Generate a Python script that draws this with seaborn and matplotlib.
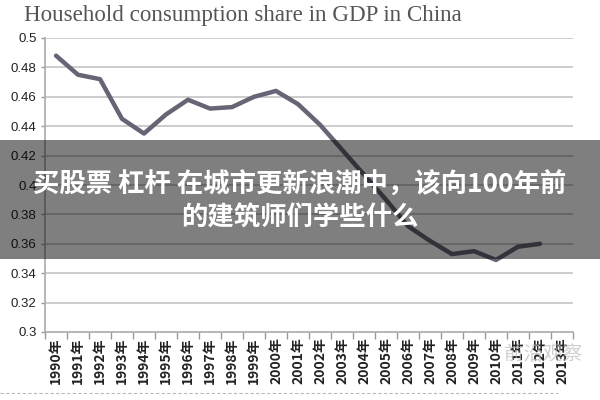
import numpy as np
import pandas as pd
import matplotlib
matplotlib.use('Agg')
import matplotlib.pyplot as plt
import seaborn as sns
from matplotlib.patches import Rectangle
from matplotlib.lines import Line2D

# household consumption share of GDP (2013 has no value)
years = [f'{y}年' for y in range(1990, 2014)]
share = [0.488, 0.475, 0.472, 0.445, 0.435, 0.448, 0.458, 0.452, 0.453, 0.460,
         0.464, 0.455, 0.441, 0.424, 0.407, 0.390, 0.372, 0.362, 0.353, 0.355,
         0.349, 0.358, 0.360, np.nan]
y_ticks = [0.3, 0.32, 0.34, 0.36, 0.38, 0.4, 0.42, 0.44, 0.46, 0.48, 0.5]
y_labels = ['0.3', '0.32', '0.34', '0.36', '0.38', '0.4', '0.42', '0.44', '0.46', '0.48', '0.5']

title = 'Household consumption share in GDP in China'
overlay_lines = ['买股票 杠杆 在城市更新浪潮中，该向100年前', '的建筑师们学些什么']
watermark = '前沿观察'

sns.set_theme(style='white')
plt.rcParams['font.family'] = ['Noto Sans CJK SC', 'DejaVu Sans']

df = pd.DataFrame({'year': years, 'share': share})
df['pos'] = np.arange(len(df))

fig = plt.figure(figsize=(6, 4), dpi=100)
ax = fig.add_axes([0.075, 0.17, 0.88, 0.735])

for v in y_ticks[1:]:
    ax.axhline(v, color='#c4c4c4', lw=1.2, zorder=0)

sns.lineplot(data=df, x='pos', y='share', ax=ax, color='#656575', lw=3.2, zorder=3)

ax.set_xlim(-0.5, len(years) - 0.5)
ax.set_ylim(0.3, 0.5)
ax.set_yticks(y_ticks)
ax.set_yticklabels(y_labels, fontsize=9.5, color='#222222', family=['Liberation Sans', 'DejaVu Sans'])
ax.set_xticks(np.arange(len(years) + 1) - 0.5)
ax.set_xticklabels([])
ax.set_xticks(np.arange(len(years)), minor=True)
ax.set_xticklabels(years, minor=True, rotation=90, fontsize=10, fontweight='bold', color='#222222')
ax.tick_params(axis='x', which='major', length=5, width=1, color='#999999', direction='out', bottom=True)
ax.tick_params(axis='x', which='minor', length=0, pad=4)
ax.tick_params(axis='y', length=3, width=1, color='#999999', direction='out', left=True, pad=3)
ax.set_xlabel('')
ax.set_ylabel('')
for s in ['top', 'right']:
    ax.spines[s].set_visible(False)
for s in ['left', 'bottom']:
    ax.spines[s].set_color('#aaaaaa')
    ax.spines[s].set_linewidth(1.2)

fig.text(0.04, 0.962, title, fontsize=16.6, color='#555555',
         family=['Liberation Serif', 'DejaVu Serif'], va='center', ha='left')

# dark banner with the article headline over the chart
fig.patches.append(Rectangle((0, 1 - 259 / 400), 1, 119 / 400, transform=fig.transFigure,
                             facecolor='black', alpha=0.5, edgecolor='none', zorder=10))
fig.text(0.5, 1 - 185 / 400, overlay_lines[0], fontsize=19, fontweight='bold', color='white',
         ha='center', va='center', zorder=11)
fig.text(0.5, 1 - 218 / 400, overlay_lines[1], fontsize=19, fontweight='bold', color='white',
         ha='center', va='center', zorder=11)

fig.text(0.905, 1 - 355 / 400, watermark, fontsize=14, color='#bbbbbb', alpha=0.7,
         ha='center', va='center', zorder=12)
fig.lines.append(Line2D([0, 0.93], [1 - 393 / 400] * 2, transform=fig.transFigure,
                        color='#bbbbbb', lw=0.8, ls=(0, (3, 2))))

fig.savefig('out.png', dpi=100)
